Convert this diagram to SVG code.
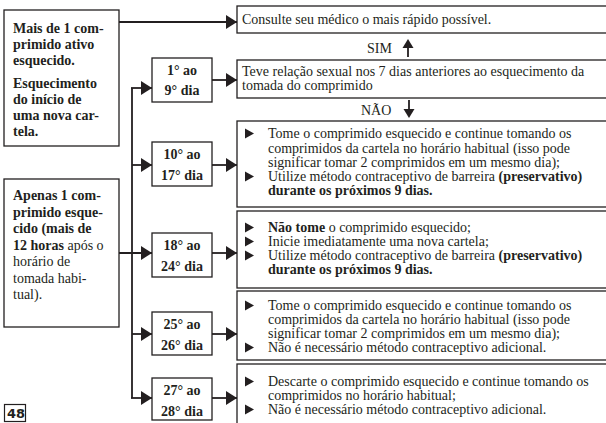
<svg xmlns="http://www.w3.org/2000/svg" width="606" height="423" viewBox="0 0 606 423">
<style>
.box{fill:#fff;stroke:#231f20;stroke-width:1.3}
.t{font-family:"Liberation Serif","Times New Roman",serif;font-size:14px;fill:#231f20}
.b{font-weight:bold}
.c{text-anchor:middle}
.ln{stroke:#231f20;stroke-width:1.8;fill:none}
.arr{stroke:#231f20;stroke-width:1.8;fill:none;marker-end:url(#ah)}
.bul{fill:#231f20}
</style>
<defs>
<marker id="ah" markerUnits="userSpaceOnUse" markerWidth="11" markerHeight="14" refX="11" refY="7" orient="auto">
<path d="M0,0 L11,7 L0,14 z" fill="#231f20"/>
</marker>
<path id="bt" d="M0,-5 L9,0 L0,5 z"/>
</defs>
<rect width="606" height="423" fill="#fff"/>

<g id="connectors">
<line class="arr" x1="119" y1="22" x2="237" y2="22"/>
<line class="ln" x1="132" y1="88" x2="132" y2="398"/>
<line class="arr" x1="131" y1="88" x2="152" y2="88"/>
<line class="arr" x1="132" y1="165" x2="152" y2="165"/>
<line class="arr" x1="119" y1="253" x2="152" y2="253"/>
<line class="arr" x1="132" y1="334" x2="152" y2="334"/>
<line class="arr" x1="131" y1="398" x2="152" y2="398"/>
<line class="arr" x1="212" y1="80" x2="237" y2="80"/>
<line class="arr" x1="212" y1="165" x2="237" y2="165"/>
<line class="arr" x1="212" y1="253" x2="237" y2="253"/>
<line class="arr" x1="212" y1="334" x2="237" y2="334"/>
<line class="arr" x1="212" y1="398" x2="237" y2="398"/>
<line class="ln" x1="408" y1="57" x2="408" y2="46" stroke-width="2.5"/>
<path d="M402.5,48 L408,39 L413.5,48 z" fill="#231f20"/>
<line class="ln" x1="409" y1="100" x2="409" y2="111" stroke-width="2.5"/>
<path d="M403.5,109 L409,118 L414.5,109 z" fill="#231f20"/>
</g>

<g id="n-mais">
<rect class="box" x="4" y="10" width="115" height="136"/>
<text class="t b" x="13"><tspan x="13" y="33">Mais de 1 com-</tspan><tspan x="13" y="48.5">primido ativo</tspan><tspan x="13" y="64.5">esquecido.</tspan><tspan x="13" y="88">Esquecimento</tspan><tspan x="13" y="103.5">do início de</tspan><tspan x="13" y="119.5">uma nova car-</tspan><tspan x="13" y="135.5">tela.</tspan></text>
</g>

<g id="n-apenas">
<rect class="box" x="4" y="179" width="115" height="148"/>
<text class="t" x="13"><tspan class="b" x="13" y="200">Apenas 1 com-</tspan><tspan class="b" x="13" y="216.5">primido esque-</tspan><tspan class="b" x="13" y="233">cido (mais de</tspan><tspan class="b" x="13" y="249.5">12 horas</tspan><tspan> após o</tspan><tspan x="13" y="266">horário de</tspan><tspan x="13" y="282.5">tomada habi-</tspan><tspan x="13" y="299">tual).</tspan></text>
</g>

<g id="d1">
<rect class="box" x="152" y="58" width="60" height="44"/>
<text class="t b c" x="182" y="75" font-size="14.5">1° ao</text>
<text class="t b c" x="182" y="95" font-size="14.5">9° dia</text>
</g>
<g id="d10">
<rect class="box" x="152" y="142" width="60" height="44"/>
<text class="t b c" x="182" y="159" font-size="14.5">10° ao</text>
<text class="t b c" x="182" y="180" font-size="14.5">17° dia</text>
</g>
<g id="d18">
<rect class="box" x="152" y="233" width="60" height="44"/>
<text class="t b c" x="182" y="250" font-size="14.5">18° ao</text>
<text class="t b c" x="182" y="271" font-size="14.5">24° dia</text>
</g>
<g id="d25">
<rect class="box" x="152" y="312" width="60" height="43"/>
<text class="t b c" x="182" y="329" font-size="14.5">25° ao</text>
<text class="t b c" x="182" y="350" font-size="14.5">26° dia</text>
</g>
<g id="d27">
<rect class="box" x="152" y="378" width="60" height="42"/>
<text class="t b c" x="182" y="395" font-size="14.5">27° ao</text>
<text class="t b c" x="182" y="416" font-size="14.5">28° dia</text>
</g>

<g id="r-consulte">
<rect class="box" x="237" y="6" width="380" height="27"/>
<text class="t" x="242" y="24">Consulte seu médico o mais rápido possível.</text>
</g>
<text class="t" x="367" y="53">SIM</text>
<g id="r-teve">
<rect class="box" x="237" y="60" width="380" height="38"/>
<text class="t" x="242" y="76">Teve relação sexual nos 7 dias anteriores ao esquecimento da</text>
<text class="t" x="242" y="90">tomada do comprimido</text>
</g>
<text class="t" x="361" y="115">NÃO</text>

<g id="r-10">
<rect class="box" x="237" y="121" width="380" height="86"/>
<use href="#bt" class="bul" x="245" y="133.5"/>
<use href="#bt" class="bul" x="245" y="176.5"/>
<text class="t" x="268" y="138">Tome o comprimido esquecido e continue tomando os</text>
<text class="t" x="268" y="152.5">comprimidos da cartela no horário habitual (isso pode</text>
<text class="t" x="268" y="167">significar tomar 2 comprimidos em um mesmo dia);</text>
<text class="t" x="268" y="181">Utilize método contraceptivo de barreira <tspan class="b">(preservativo)</tspan></text>
<text class="t b" x="268" y="195">durante os próximos 9 dias.</text>
</g>

<g id="r-18">
<rect class="box" x="237" y="211" width="380" height="77"/>
<use href="#bt" class="bul" x="245" y="227.5"/>
<use href="#bt" class="bul" x="245" y="241.5"/>
<use href="#bt" class="bul" x="245" y="255.5"/>
<text class="t" x="268" y="232"><tspan class="b">Não tome</tspan> o comprimido esquecido;</text>
<text class="t" x="268" y="246">Inicie imediatamente uma nova cartela;</text>
<text class="t" x="268" y="260">Utilize método contraceptivo de barreira <tspan class="b">(preservativo)</tspan></text>
<text class="t b" x="268" y="274">durante os próximos 9 dias.</text>
</g>

<g id="r-25">
<rect class="box" x="237" y="291" width="380" height="69"/>
<use href="#bt" class="bul" x="245" y="305.5"/>
<use href="#bt" class="bul" x="245" y="347.5"/>
<text class="t" x="268" y="310">Tome o comprimido esquecido e continue tomando os</text>
<text class="t" x="268" y="324">comprimidos da cartela no horário habitual (isso pode</text>
<text class="t" x="268" y="338">significar tomar 2 comprimidos em um mesmo dia);</text>
<text class="t" x="268" y="352">Não é necessário método contraceptivo adicional.</text>
</g>

<g id="r-27">
<rect class="box" x="237" y="364" width="380" height="70"/>
<use href="#bt" class="bul" x="245" y="381.5"/>
<use href="#bt" class="bul" x="245" y="409.5"/>
<text class="t" x="268" y="386">Descarte o comprimido esquecido e continue tomando os</text>
<text class="t" x="268" y="400">comprimidos no horário habitual;</text>
<text class="t" x="268" y="414">Não é necessário método contraceptivo adicional.</text>
</g>

<g id="page">
<rect x="4.5" y="404.5" width="21" height="17" fill="none" stroke="#231f20" stroke-width="1.2"/>
<text x="7" y="418" font-family="'DejaVu Sans','Liberation Sans',sans-serif" font-size="13" font-weight="bold" fill="#231f20">48</text>
</g>
</svg>
